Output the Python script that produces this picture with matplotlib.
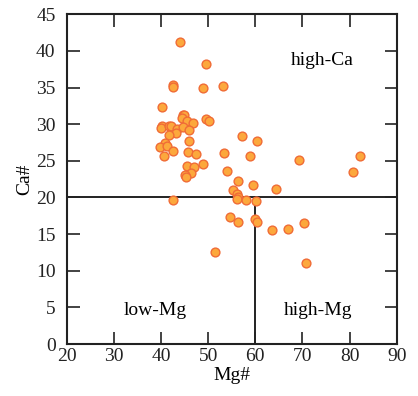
import matplotlib
matplotlib.use('Agg')
import matplotlib.pyplot as plt

# Mg# and Ca# values
mg_num = [44.0, 49.5, 42.5, 42.5, 48.9, 53.2, 40.2, 44.6, 44.9, 44.4,
          45.5, 46.7, 49.6, 50.1, 40.2, 39.9, 41.8, 42.2, 43.3, 44.7,
          43.2, 46.0, 41.6, 57.2, 60.3, 40.9, 39.8, 41.2, 40.7, 42.5,
          45.9, 45.8, 47.4, 53.3, 58.9, 69.3, 82.2, 80.8, 45.5, 46.9,
          48.9, 46.4, 45.0, 45.3, 53.9, 56.3, 59.5, 64.3, 55.2, 56.1,
          56.3, 56.1, 58.0, 60.2, 42.5, 54.7, 56.4, 60.0, 60.4, 63.5,
          66.9, 70.3, 51.5, 70.8]
ca_num = [41.2, 38.2, 35.4, 35.1, 34.9, 35.2, 32.3, 31.2, 31.3, 30.8,
          30.5, 30.1, 30.7, 30.5, 29.7, 29.5, 29.8, 29.7, 29.3, 29.6,
          28.8, 29.2, 28.5, 28.4, 27.7, 27.5, 26.9, 27.0, 25.6, 26.4,
          27.7, 26.2, 25.9, 26.1, 25.6, 25.1, 25.6, 23.5, 24.3, 24.1,
          24.6, 23.4, 23.1, 22.8, 23.6, 22.2, 21.7, 21.1, 21.0, 20.5,
          20.1, 19.8, 19.6, 19.5, 19.6, 17.4, 16.6, 17.0, 16.7, 15.5,
          15.7, 16.55, 12.5, 11.0]

x_ticks = [20, 30, 40, 50, 60, 70, 80, 90]
y_ticks = [0, 5, 10, 15, 20, 25, 30, 35, 40, 45]

plt.rcParams['font.family'] = ['Liberation Serif', 'DejaVu Serif']
plt.rcParams['font.size'] = 14

fig = plt.figure(figsize=(4.18, 3.96), dpi=100)
ax = fig.add_axes([0.1596, 0.1313, 0.7894, 0.8326])

# field boundaries
ax.axhline(20, color='#222222', lw=1.4, zorder=1)
ax.plot([60, 60], [0, 20], color='#222222', lw=1.4, zorder=1)

ax.scatter(mg_num, ca_num, s=40, facecolor='#FCA83C', edgecolor='#F06C36',
           linewidth=1.0, zorder=3)

ax.text(74.2, 38.7, 'high-Ca', ha='center', va='center')
ax.text(38.7, 4.6, 'low-Mg', ha='center', va='center')
ax.text(73.3, 4.6, 'high-Mg', ha='center', va='center')

ax.set_xlim(20, 90)
ax.set_ylim(0, 45)
ax.set_xticks(x_ticks)
ax.set_yticks(y_ticks)
ax.tick_params(direction='in', length=9, width=1.2, top=True, right=True,
               labelsize=14, colors='#222222')
ax.tick_params(axis='x', pad=3)
ax.tick_params(axis='y', pad=8)
for sp in ax.spines.values():
    sp.set_linewidth(1.5)
    sp.set_color('#222222')

ax.set_xlabel('Mg#', labelpad=1)
ax.set_ylabel('Ca#', labelpad=2)

fig.savefig('out.png', dpi=100)
